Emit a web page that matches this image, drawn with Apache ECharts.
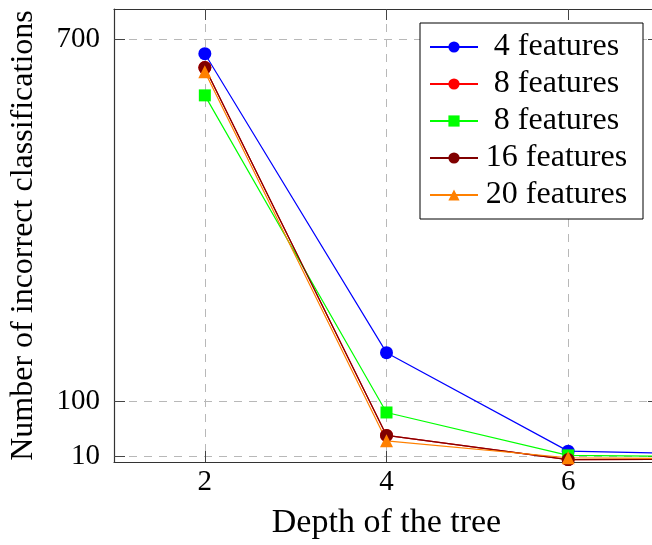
<!DOCTYPE html>
<html>
<head>
<meta charset="utf-8">
<script src="https://cdn.jsdelivr.net/npm/echarts@6/dist/echarts.min.js"></script>
<style>
html,body{margin:0;padding:0;background:#fff;}
#c{width:652px;height:545px;}
</style>
</head>
<body>
<div id="c"></div>
<script>
// Data
var depths = [2, 4, 6, 7];
var names = ['4 features', '8 features', '8 features ', '16 features', '20 features'];
var f4  = [676, 181, 18, 15];
var f8a = [653, 44, 4, 4.5];
var f8b = [607, 82, 11, 9.5];
var f16 = [653, 44, 4, 4.5];
var f20 = [646, 35, 7, 6];
var xTicks = [2, 4, 6];
var yTicks = [10, 100, 700];

var colors = ['#0000ff', '#ff0000', '#00ff00', '#800000', '#ff8000'];
var symbols = ['circle', 'circle', 'rect', 'circle', 'triangle'];
var sizes = [13, 13, 12, 13, 13];
var values = [f4, f8a, f8b, f16, f20];

var FONT = '"Liberation Serif", "Times New Roman", serif';

function pairs(v) { return depths.map(function (d, i) { return [d, v[i]]; }); }

var series = values.map(function (v, i) {
  return {
    name: names[i],
    type: 'line',
    data: pairs(v),
    symbol: symbols[i],
    symbolSize: sizes[i],
    showAllSymbol: true,
    clip: true,
    color: colors[i],
    lineStyle: { color: colors[i], width: 1.2 },
    itemStyle: { color: colors[i] },
    emphasis: { disabled: true },
    animation: false
  };
});

var gridLine = { show: true, lineStyle: { color: '#b8b8b8', width: 1, type: [8, 7] } };
var tickStyle = { show: true, inside: true, length: 11, lineStyle: { color: '#444', width: 1 } };
var axisLine = { show: true, onZero: false, lineStyle: { color: '#333', width: 1.2 } };

var chart = echarts.init(document.getElementById('c'), null, { renderer: 'canvas' });
chart.setOption({
  animation: false,
  backgroundColor: '#fff',
  grid: { left: 114, width: 545, top: 9, height: 453, containLabel: false, outerBoundsMode: 'none' },
  legend: {
    orient: 'vertical',
    left: 420,
    top: 23,
    padding: [8, 13, 8, 9],
    itemGap: 5,
    itemWidth: 48,
    itemHeight: 14,
    borderColor: '#000',
    borderWidth: 1,
    backgroundColor: '#fff',
    selectedMode: false,
    data: names,
    formatter: function (n) { return '{c|' + n.trim() + '}'; },
    textStyle: {
      fontFamily: FONT, fontSize: 32, color: '#000', lineHeight: 30,
      rich: { c: { width: 147, align: 'center', fontFamily: FONT, fontSize: 32, color: '#000', lineHeight: 30 } }
    }
  },
  xAxis: [{
    type: 'value', min: 1, max: 7, position: 'bottom',
    name: 'Depth of the tree', nameLocation: 'middle', nameGap: 44,
    nameTextStyle: { fontFamily: FONT, fontSize: 34, color: '#000' },
    axisLine: axisLine,
    axisTick: Object.assign({ customValues: xTicks }, tickStyle),
    axisLabel: { customValues: xTicks, fontFamily: FONT, fontSize: 29, color: '#000', margin: 6 },
    splitLine: gridLine
  }, {
    type: 'value', min: 1, max: 7, position: 'top',
    axisLine: axisLine,
    axisTick: Object.assign({ customValues: xTicks }, tickStyle),
    axisLabel: { show: false },
    splitLine: { show: false }
  }],
  yAxis: [{
    type: 'value', min: 0, max: 750, position: 'left',
    name: 'Number of incorrect classifications', nameLocation: 'middle', nameGap: 74, nameRotate: 90,
    nameTextStyle: { fontFamily: FONT, fontSize: 32, color: '#000' },
    axisLine: axisLine,
    axisTick: Object.assign({ customValues: yTicks }, tickStyle),
    axisLabel: { customValues: yTicks, fontFamily: FONT, fontSize: 29, color: '#000', margin: 14 },
    splitLine: gridLine
  }, {
    type: 'value', min: 0, max: 750, position: 'right',
    axisLine: axisLine,
    axisTick: Object.assign({ customValues: yTicks }, tickStyle),
    axisLabel: { show: false },
    splitLine: { show: false }
  }],
  series: series
});
</script>
</body>
</html>
